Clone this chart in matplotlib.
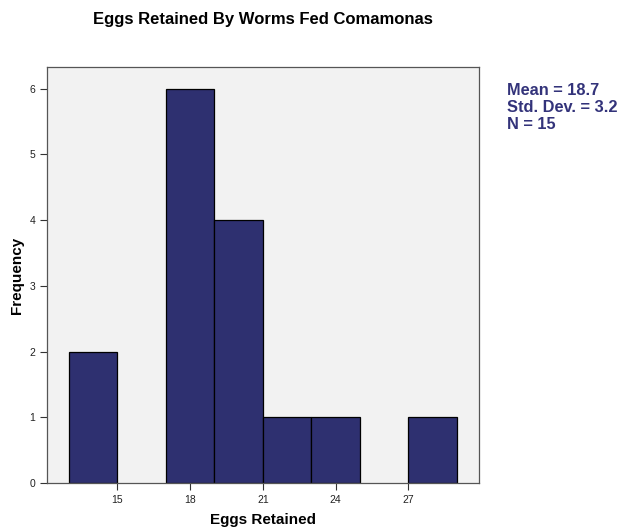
import matplotlib.pyplot as plt

plt.rcParams['font.family'] = ['Liberation Sans', 'DejaVu Sans']

bin_left = [13, 17, 19, 21, 23, 27]
counts = [2, 6, 4, 1, 1, 1]
bin_width = 2
x_ticks = [15, 18, 21, 24, 27]
y_ticks = [0, 1, 2, 3, 4, 5, 6]
stats = ['Mean = 18.7', 'Std. Dev. = 3.2', 'N = 15']

fig = plt.figure(figsize=(6.21, 5.31), dpi=100)
ax = fig.add_axes([0.0757, 0.0904, 0.6953, 0.7836])
ax.set_facecolor('#f2f2f2')

ax.bar(bin_left, counts, width=bin_width, align='edge',
       color='#2e3070', edgecolor='black', linewidth=0.9)

ax.set_xlim(12.1, 29.9)
ax.set_ylim(0, 6.33)
ax.set_xticks(x_ticks)
ax.set_yticks(y_ticks)
ax.tick_params(labelsize=7.5, length=5, width=0.8, color='#333333', labelcolor='#222222')
for s in ax.spines.values():
    s.set_color('#555555')
    s.set_linewidth(0.9)

ax.set_xlabel('Eggs Retained', fontsize=11, fontweight='bold', labelpad=6)
ax.set_ylabel('Frequency', fontsize=11, fontweight='bold', labelpad=4)
fig.text(0.4235, 0.964, 'Eggs Retained By Worms Fed Comamonas',
         ha='center', va='center', fontsize=12, fontweight='bold')

fig.text(0.816, 0.843, '\n'.join(stats), ha='left', va='top',
         fontsize=11.8, fontweight='bold', color='#33337a', linespacing=1.15)

fig.savefig('out.png', dpi=100)
